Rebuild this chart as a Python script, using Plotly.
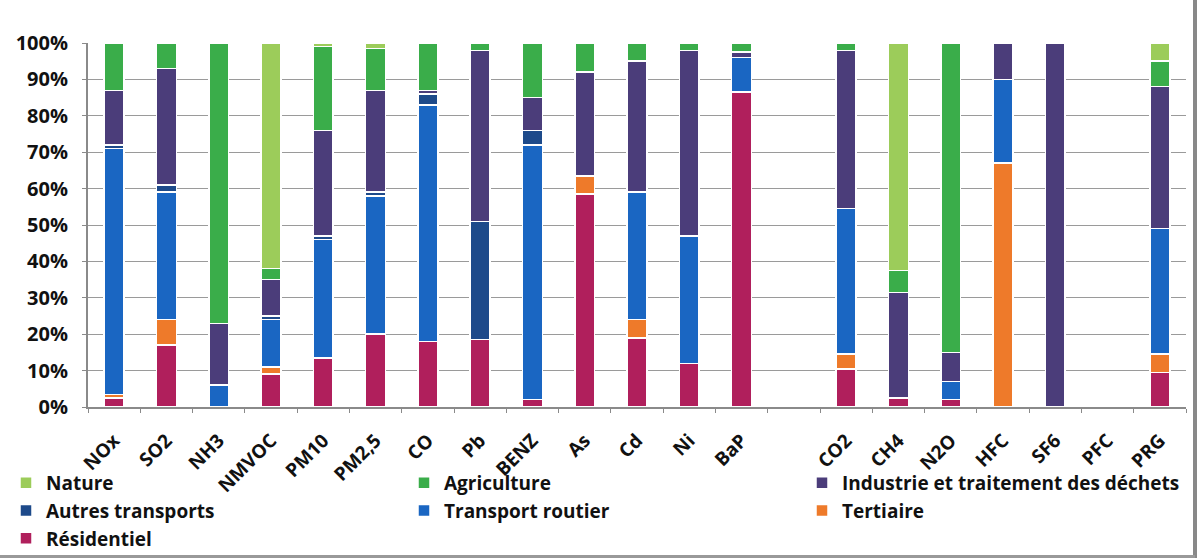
import plotly.graph_objects as go

categories = ["NOx", "SO2", "NH3", "NMVOC", "PM10", "PM2,5", "CO", "Pb", "BENZ", "As", "Cd", "Ni", "BaP", " ",
              "CO2", "CH4", "N2O", "HFC", "SF6", "PFC", "PRG"]

residentiel       = [2.5, 17, 0, 9, 13.5, 20, 18, 18.5, 2, 58.5, 19, 12, 86.5, 0, 10.5, 2.5, 2, 0, 0, 0, 9.5]
tertiaire         = [1, 7, 0, 2, 0, 0, 0, 0, 0, 5, 5, 0, 0, 0, 4, 0, 0, 67, 0, 0, 5]
transport_routier = [67.5, 35, 6, 13, 32.5, 38, 65, 0, 70, 0, 35, 35, 9.5, 0, 40, 0, 5, 23, 0, 0, 34.5]
autres_transports = [1, 2, 0, 1, 1, 1, 3, 32.5, 4, 0, 0, 0, 0, 0, 0, 0, 0, 0, 0, 0, 0]
industrie         = [15, 32, 17, 10, 29, 28, 1, 47, 9, 28.5, 36, 51, 1.5, 0, 43.5, 29, 8, 10, 100, 0, 39]
agriculture       = [13, 7, 77, 3, 23, 11.5, 13, 2, 15, 8, 5, 2, 2.5, 0, 2, 6, 85, 0, 0, 0, 7]
nature            = [0, 0, 0, 62, 1, 1.5, 0, 0, 0, 0, 0, 0, 0, 0, 0, 62.5, 0, 0, 0, 0, 5]

series = [
    ("Résidentiel", residentiel, "#b01f5c"),
    ("Tertiaire", tertiaire, "#ee7a2a"),
    ("Transport routier", transport_routier, "#1a66c2"),
    ("Autres transports", autres_transports, "#1d4a8a"),
    ("Industrie et traitement des déchets", industrie, "#4b3d7a"),
    ("Agriculture", agriculture, "#3aad4a"),
    ("Nature", nature, "#9ccc5a"),
]

fig = go.Figure()
for name, vals, col in series:
    fig.add_trace(go.Bar(
        x=categories, y=vals, name=name, width=0.38,
        marker=dict(color=col, line=dict(color="white", width=1.5)),
    ))

W, H = 1200, 558
TOP = 43
paper_h = H - TOP

font_family = "Open Sans"
fig.update_layout(
    barmode="stack",
    width=W, height=H,
    margin=dict(l=0, r=0, t=TOP, b=0),
    paper_bgcolor="white", plot_bgcolor="white",
    font=dict(family=font_family, color="#111111"),
    showlegend=True,
    legend=dict(
        orientation="h", traceorder="reversed",
        x=10 / W, xanchor="left", y=0.0, yanchor="bottom",
        entrywidth=353, entrywidthmode="pixels",
        font=dict(family=font_family, size=19, color="#111111", weight="bold"),
        bgcolor="rgba(0,0,0,0)",
        itemwidth=30,
    ),
    xaxis=dict(
        domain=[88 / W, 1186 / W],
        type="category", tickangle=-45, automargin=False,
        tickfont=dict(family=font_family, size=19, color="#111111", weight="bold"),
        ticklabelstandoff=13,
        showline=True, linecolor="#8a8a8a", linewidth=2,
        ticks="outside", tickson="boundaries", ticklen=4, tickcolor="#8a8a8a",
        showgrid=False,
    ),
    yaxis=dict(
        domain=[(H - 407) / paper_h, 1],
        range=[0, 100], dtick=10, ticksuffix="%", automargin=False,
        tickfont=dict(family=font_family, size=20, color="#111111", weight="bold"),
        ticklabelstandoff=10,
        showgrid=True, gridcolor="#9a9a9a", gridwidth=1,
        showline=True, linecolor="#8a8a8a", linewidth=2,
        ticks="outside", ticklen=4, tickcolor="#8a8a8a",
        zeroline=False,
    ),
    shapes=[
        dict(type="line", xref="paper", yref="paper", x0=1195 / W, x1=1195 / W, y0=0, y1=1.1,
             line=dict(color="#888888", width=4)),
        dict(type="line", xref="paper", yref="paper", x0=0, x1=1195 / W, y0=1.5 / paper_h, y1=1.5 / paper_h,
             line=dict(color="#999999", width=3)),
    ],
)

fig.write_html("out.html")
